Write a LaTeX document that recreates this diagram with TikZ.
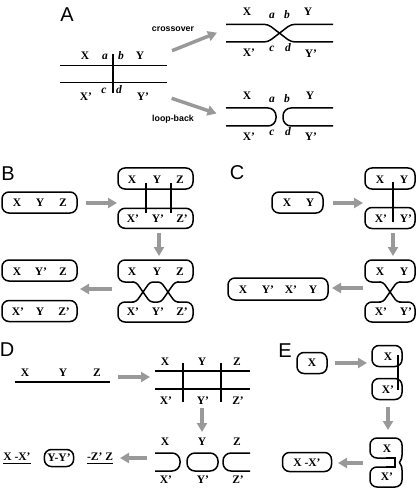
\documentclass[tikz,border=0pt]{standalone}
\usepackage{fontspec}
\setmainfont{Liberation Serif}
\newfontfamily\sansf{Liberation Sans}
\usetikzlibrary{arrows.meta}
\begin{document}
\begin{tikzpicture}[x=1pt,y=-1pt,
  lbl/.style={font=\fontsize{11.5}{13}\selectfont\bfseries, inner sep=0pt},
  ilbl/.style={font=\fontsize{11.5}{13}\selectfont\bfseries\itshape, inner sep=0pt},
  plabel/.style={font=\sansf\fontsize{20}{22}\selectfont, inner sep=0pt},
  slbl/.style={font=\sansf\bfseries\fontsize{8.8}{10}\selectfont, inner sep=0pt},
  ln/.style={line width=1.5pt},
  rbox/.style={draw, line width=1.5pt, rounded corners=7pt, inner sep=0pt},
  garrow/.style={draw=gray!80, line width=3.5pt, -{Triangle[length=9pt,width=10pt]}},
  ul/.style={line width=1pt}
]
\useasboundingbox (0,0) rectangle (418,494);

% ---------------- Panel A ----------------
\node[plabel] (pA) at (67,15) {A};
\draw[ln] (60,65.5) -- (167,65.5);
\draw[ln] (60,82.5) -- (167,82.5);
\draw[ln] (113,54) -- (113,93);
\node[lbl] (aX) at (85,56) {X};
\node[ilbl] (aa) at (105,57) {a};
\node[ilbl] (ab) at (121,56) {b};
\node[lbl] (aY) at (140,56) {Y};
\node[lbl] (aX2) at (86,97) {X'};
\node[ilbl] (ac) at (104,91) {c};
\node[ilbl] (ad) at (119,90) {d};
\node[lbl] (aY2) at (143,97) {Y'};

\coordinate (arCs) at (172,50.7);
\coordinate (arCe) at (217,32.7);
\draw[garrow] (arCs) -- (arCe);
\node[slbl] (tCross) at (173,29) {crossover};
\coordinate (arLs) at (171.7,98.3);
\coordinate (arLe) at (216.5,113.5);
\draw[garrow] (arLs) -- (arLe);
\node[slbl] (tLoop) at (173,119) {loop-back};

% crossover result
\draw[ln, rounded corners=4] (226,24.3) -- (268,24.3) -- (291,42) -- (333,42);
\draw[ln, rounded corners=4] (226,42) -- (268,42) -- (291,24.3) -- (333,24.3);
\node[lbl] (cX) at (247,12) {X};
\node[ilbl] (ca) at (272,16) {a};
\node[ilbl] (cb) at (287,15) {b};
\node[lbl] (cY) at (308,12) {Y};
\node[lbl] (cX2) at (249,53) {X'};
\node[ilbl] (cc) at (272,49) {c};
\node[ilbl] (cd) at (288,48) {d};
\node[lbl] (cY2) at (311,54) {Y'};

% loop-back result
\draw[ln, rounded corners=8] (226,108) -- (276,108) -- (276,126) -- (226,126);
\draw[ln, rounded corners=8] (333,108) -- (283,108) -- (283,126) -- (333,126);
\node[lbl] (lX) at (247,96) {X};
\node[ilbl] (la) at (272,100) {a};
\node[ilbl] (lb) at (287,99) {b};
\node[lbl] (lY) at (310,96) {Y};
\node[lbl] (lX2) at (249,137) {X'};
\node[ilbl] (lc) at (272,133) {c};
\node[ilbl] (ld) at (288,132) {d};
\node[lbl] (lY2) at (311,137) {Y'};

% ---------------- Panel B ----------------
\node[plabel] (pB) at (8,174) {B};
\node[rbox, minimum width=75, minimum height=21] (b0) at (39.5,202.5) {};
\node[lbl] (b0X) at (17,203) {X};
\node[lbl] (b0Y) at (40,203) {Y};
\node[lbl] (b0Z) at (63,203) {Z};
\coordinate (bA1s) at (86,203);
\coordinate (bA1e) at (117,203);
\draw[garrow] (bA1s) -- (bA1e);

\node[rbox, minimum width=75, minimum height=21] (b1) at (155.5,178.5) {};
\node[lbl] (b1X) at (132,180) {X};
\node[lbl] (b1Y) at (157,180) {Y};
\node[lbl] (b1Z) at (180,180) {Z};
\node[rbox, minimum width=75, minimum height=20] (b2) at (155.5,218.3) {};
\node[lbl] (b2X) at (133,219) {X'};
\node[lbl] (b2Y) at (158,219) {Y'};
\node[lbl] (b2Z) at (182,219) {Z'};
\draw[ln] (146,183) -- (146,213);
\draw[ln] (171,183) -- (171,213);
\coordinate (bA2s) at (159,233);
\coordinate (bA2e) at (159,256);
\draw[garrow] (bA2s) -- (bA2e);

\draw[ln, rounded corners=7] (134,282) -- (118,282) -- (118,260) -- (193,260) -- (193,282) -- (177,282);
\draw[ln, rounded corners=7] (134,302) -- (118,302) -- (118,322) -- (193,322) -- (193,302) -- (177,302);
\draw[ln, rounded corners=3] (132,282) -- (136,282) -- (150,302) -- (161,302) -- (175,282) -- (179,282);
\draw[ln, rounded corners=3] (132,302) -- (136,302) -- (150,282) -- (161,282) -- (175,302) -- (179,302);
\node[lbl] (b3X) at (132,272) {X};
\node[lbl] (b3Y) at (157,272) {Y};
\node[lbl] (b3Z) at (180,272) {Z};
\node[lbl] (b4X) at (133,312) {X'};
\node[lbl] (b4Y) at (158,312) {Y'};
\node[lbl] (b4Z) at (182,312) {Z'};
\coordinate (bA3s) at (112,289);
\coordinate (bA3e) at (80,289);
\draw[garrow] (bA3s) -- (bA3e);

\node[rbox, minimum width=75, minimum height=21] (b5) at (39.5,270.5) {};
\node[lbl] (b5X) at (17,271.5) {X};
\node[lbl] (b5Y) at (41,271.5) {Y'};
\node[lbl] (b5Z) at (63,271.5) {Z};
\node[rbox, minimum width=75, minimum height=21] (b6) at (39.5,311) {};
\node[lbl] (b6X) at (18,312) {X'};
\node[lbl] (b6Y) at (40,312) {Y};
\node[lbl] (b6Z) at (64,312) {Z'};

% ---------------- Panel C ----------------
\node[plabel] (pC) at (237,173) {C};
\node[rbox, minimum width=51, minimum height=21] (c0) at (297.5,202.5) {};
\node[lbl] (c0X) at (287,203) {X};
\node[lbl] (c0Y) at (310,203) {Y};
\coordinate (cA1s) at (333,203);
\coordinate (cA1e) at (363,203);
\draw[garrow] (cA1s) -- (cA1e);

\node[rbox, minimum width=50, minimum height=21] (c1) at (390,178.5) {};
\node[lbl] (c1X) at (380,180) {X};
\node[lbl] (c1Y) at (404,180) {Y};
\node[rbox, minimum width=50, minimum height=21] (c2) at (390,218) {};
\node[lbl] (c2X) at (381,219) {X'};
\node[lbl] (c2Y) at (406,219) {Y'};
\draw[ln] (393,182) -- (393,222);
\coordinate (cA2s) at (393,233);
\coordinate (cA2e) at (393,256);
\draw[garrow] (cA2s) -- (cA2e);

\draw[ln, rounded corners=7] (381,282) -- (365,282) -- (365,260) -- (415,260) -- (415,282) -- (399,282);
\draw[ln, rounded corners=7] (381,302) -- (365,302) -- (365,322) -- (415,322) -- (415,302) -- (399,302);
\draw[ln, rounded corners=3] (379,282) -- (383,282) -- (397,302) -- (401,302);
\draw[ln, rounded corners=3] (379,302) -- (383,302) -- (397,282) -- (401,282);
\node[lbl] (c3X) at (380,272) {X};
\node[lbl] (c3Y) at (404,272) {Y};
\node[lbl] (c4X) at (381,312) {X'};
\node[lbl] (c4Y) at (406,312) {Y'};
\coordinate (cA3s) at (363,288);
\coordinate (cA3e) at (332,288);
\draw[garrow] (cA3s) -- (cA3e);

\node[rbox, minimum width=100, minimum height=22] (c5) at (278,289) {};
\node[lbl] (c5a) at (243,290) {X};
\node[lbl] (c5b) at (268,290) {Y'};
\node[lbl] (c5c) at (291,290) {X'};
\node[lbl] (c5d) at (313,290) {Y};

% ---------------- Panel D ----------------
\node[plabel] (pD) at (7,350) {D};
\draw[ln] (15,382) -- (110,382);
\node[lbl] (d0X) at (25,373) {X};
\node[lbl] (d0Y) at (63,373) {Y};
\node[lbl] (d0Z) at (97,373) {Z};
\coordinate (dA1s) at (118,377);
\coordinate (dA1e) at (150,377);
\draw[garrow] (dA1s) -- (dA1e);

\draw[ln] (155,371) -- (250,371);
\draw[ln] (155,389) -- (250,389);
\draw[ln] (183,363) -- (183,402);
\draw[ln] (221,363) -- (221,402);
\node[lbl] (d1X) at (165,362) {X};
\node[lbl] (d1Y) at (202,362) {Y};
\node[lbl] (d1Z) at (237,362) {Z};
\node[lbl] (d1X2) at (166,401) {X'};
\node[lbl] (d1Y2) at (203,401) {Y'};
\node[lbl] (d1Z2) at (238,401) {Z'};
\coordinate (dA2s) at (202,408);
\coordinate (dA2e) at (202,432);
\draw[garrow] (dA2s) -- (dA2e);

\draw[ln, rounded corners=8] (155,453) -- (180,453) -- (180,471) -- (155,471);
\draw[ln, rounded corners=8] (187,453) rectangle (218,471);
\draw[ln, rounded corners=8] (250,453) -- (223,453) -- (223,471) -- (250,471);
\node[lbl] (d2X) at (165,442) {X};
\node[lbl] (d2Y) at (202,442) {Y};
\node[lbl] (d2Z) at (237,442) {Z};
\node[lbl] (d2X2) at (166,480) {X'};
\node[lbl] (d2Y2) at (203,480) {Y'};
\node[lbl] (d2Z2) at (238,480) {Z'};
\coordinate (dA3s) at (147,458);
\coordinate (dA3e) at (120,458);
\draw[garrow] (dA3s) -- (dA3e);

\node[lbl] (d3a) at (17,457) {X -X'};
\draw[ul] ([yshift=-2.5pt]d3a.south west) -- ([yshift=-2.5pt]d3a.south east);
\node[rbox, lbl, inner xsep=3pt, minimum height=17] (d3b) at (59,458) {Y-Y'};
\node[lbl] (d3c) at (100,457) {-Z' Z};
\draw[ul] ([yshift=-2.5pt]d3c.south west) -- ([yshift=-2.5pt]d3c.south east);

% ---------------- Panel E ----------------
\node[plabel] (pE) at (285,351) {E};
\node[rbox, minimum width=30, minimum height=21] (e0) at (312,363) {};
\node[lbl] (e0X) at (312,363) {X};
\coordinate (eA1s) at (335,363);
\coordinate (eA1e) at (367,363);
\draw[garrow] (eA1s) -- (eA1e);

\node[rbox, minimum width=30, minimum height=21] (e1) at (387,356) {};
\node[lbl] (e1X) at (388,357) {X};
\node[rbox, minimum width=30, minimum height=21] (e2) at (387,389) {};
\node[lbl] (e2X) at (388,390) {X'};
\draw[ln] (398,355) -- (398,390);
\coordinate (eA2s) at (388,407);
\coordinate (eA2e) at (388,430);
\draw[garrow] (eA2s) -- (eA2e);

\draw[ln, rounded corners=7] (388,458) -- (370,458) -- (370,438) -- (402,438) -- (402,455);
\draw[ln] (402,455) .. controls (402,461) and (399.5,460) .. (399.5,462.5)
          .. controls (399.5,465) and (402,464) .. (402,470);
\draw[ln, rounded corners=7] (402,470) -- (402,487) -- (370,487) -- (370,467) -- (388,467);
\draw[ln] (386,458) -- (395,458) -- (395,467) -- (386,467);
\node[lbl] (e3X) at (387,449) {X};
\node[lbl] (e4X) at (387,477) {X'};
\coordinate (eA3s) at (363,463);
\coordinate (eA3e) at (338,463);
\draw[garrow] (eA3s) -- (eA3e);

\node[rbox, minimum width=49, minimum height=19] (e5) at (307,462) {};
\node[lbl] (e5t) at (307,463) {X -X'};
\end{tikzpicture}
\end{document}
